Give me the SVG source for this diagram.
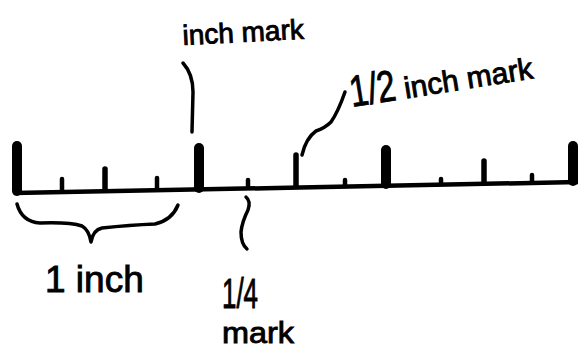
<svg xmlns="http://www.w3.org/2000/svg" width="579" height="352" viewBox="0 0 579 352">
<style>
.lbl{font-family:"Liberation Sans","DejaVu Sans",sans-serif;fill:#000;stroke:#000;stroke-width:0.9;}
.lead{fill:none;stroke:#000;stroke-width:3.5;stroke-linecap:round;stroke-linejoin:round;}
.big{stroke:#000;stroke-width:10;stroke-linecap:round;}
.mid{stroke:#000;stroke-width:5.5;stroke-linecap:round;}
.small{stroke:#000;stroke-width:4.5;stroke-linecap:round;}
</style>
<rect width="579" height="352" fill="#fff"/>
<g id="ruler">
  <path d="M14,193 L300,187.5 L578,182" fill="none" stroke="#000" stroke-width="4.5"/>
  <line class="big" x1="17" y1="146" x2="17" y2="191"/>
  <line class="small" x1="62" y1="179" x2="62" y2="190"/>
  <line class="mid" x1="105" y1="169" x2="105" y2="190"/>
  <line class="small" x1="157" y1="178" x2="157" y2="189"/>
  <line class="big" x1="199" y1="148" x2="199" y2="188"/>
  <line class="small" x1="248" y1="180" x2="248" y2="187"/>
  <line class="mid" x1="296" y1="155" x2="296" y2="186"/>
  <line class="small" x1="345" y1="180" x2="345" y2="186"/>
  <line class="big" x1="386" y1="150" x2="386" y2="184"/>
  <line class="small" x1="441" y1="179" x2="441" y2="184"/>
  <line class="mid" x1="484" y1="161" x2="484" y2="183"/>
  <line class="small" x1="532" y1="175" x2="532" y2="182"/>
  <line class="big" x1="573" y1="146" x2="573" y2="181"/>
</g>
<g id="connectors">
  <path class="lead" d="M183,63 Q193,74 193,92 L192,132"/>
  <path class="lead" d="M345,92 Q338,112 331,122 Q325,128 316,131 Q306,138 302,155"/>
  <path class="lead" d="M246,197 Q251,201 248,210 Q242,222 241,232 Q241,244 247,249"/>
  <path class="lead" d="M17,204 Q22,222 40,223 Q70,222 82,226 Q89,230 91,242 Q93,230 102,228 Q130,225 155,224 Q172,220 178,205"/>
</g>
<g id="label-inch-mark">
  <text class="lbl" x="183" y="45" font-size="28" transform="rotate(-3 183 45)">inch mark</text>
</g>
<g id="label-half-inch-mark">
  <text class="lbl" x="352" y="107" transform="rotate(-9 352 107)"><tspan font-size="44" textLength="46" lengthAdjust="spacingAndGlyphs">1/2</tspan><tspan font-size="30"> inch mark</tspan></text>
</g>
<g id="label-one-inch">
  <text class="lbl" x="45" y="292" font-size="37">1 inch</text>
</g>
<g id="label-quarter-mark">
  <text class="lbl" x="222" y="308" font-size="42" textLength="36" lengthAdjust="spacingAndGlyphs">1/4</text>
  <text class="lbl" x="222" y="343" font-size="30" textLength="72" lengthAdjust="spacingAndGlyphs">mark</text>
</g>
</svg>
